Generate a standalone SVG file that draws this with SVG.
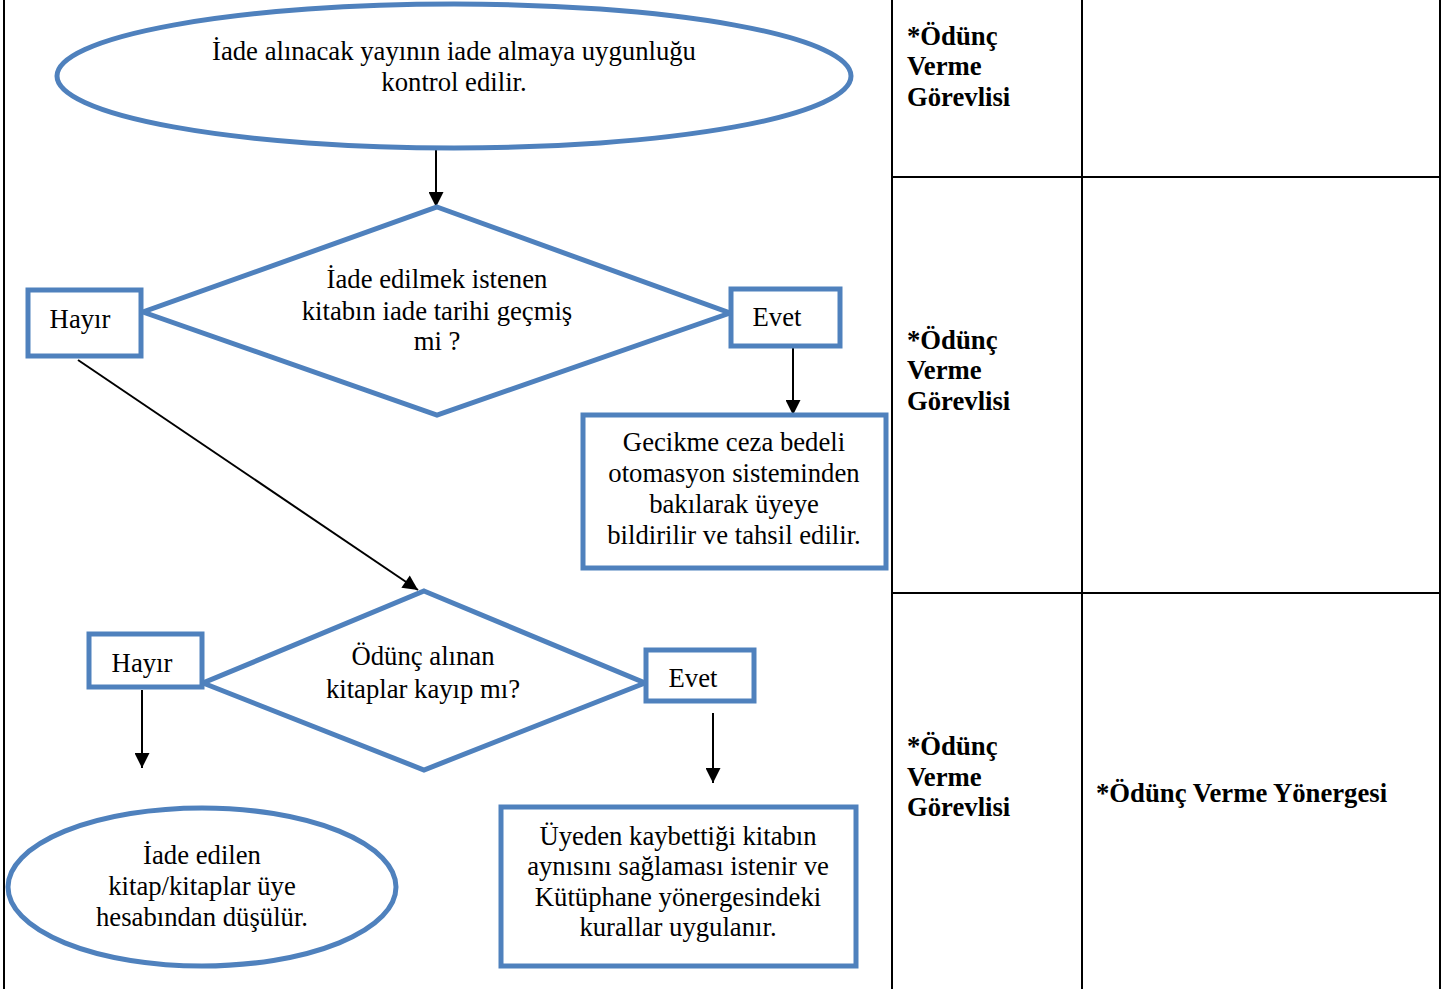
<svg xmlns="http://www.w3.org/2000/svg" width="1451" height="989" viewBox="0 0 1451 989">
<defs>
<marker id="ah" viewBox="0 0 10 10" refX="10" refY="5" markerWidth="16" markerHeight="15" markerUnits="userSpaceOnUse" orient="auto"><path d="M0,0 L10,5 L0,10 z" fill="#000"/></marker>
<style>
.sh{fill:#fff;stroke:#4F81BD;stroke-width:5}
.t{font-family:"Liberation Serif","Times New Roman",serif;font-size:26.7px;fill:#000;text-anchor:middle}
.b{font-family:"Liberation Serif","Times New Roman",serif;font-size:26.7px;font-weight:bold;fill:#000}
.grid{stroke:#000;stroke-width:2;fill:none}
.c{stroke:#000;stroke-width:2;fill:none;marker-end:url(#ah)}
</style>
</defs>
<rect width="1451" height="989" fill="#fff"/>
<g id="table">
<line class="grid" x1="4" y1="0" x2="4" y2="989"/>
<line class="grid" x1="892" y1="0" x2="892" y2="989"/>
<line class="grid" x1="1082" y1="0" x2="1082" y2="989"/>
<line class="grid" x1="1440" y1="0" x2="1440" y2="989"/>
<line class="grid" x1="892" y1="177" x2="1440" y2="177"/>
<line class="grid" x1="892" y1="593" x2="1440" y2="593"/>
<text class="b" x="907"><tspan x="907" y="45">*Ödünç</tspan><tspan x="907" y="75">Verme</tspan><tspan x="907" y="106">Görevlisi</tspan></text>
<text class="b" x="907"><tspan x="907" y="349">*Ödünç</tspan><tspan x="907" y="379">Verme</tspan><tspan x="907" y="410">Görevlisi</tspan></text>
<text class="b" x="907"><tspan x="907" y="755">*Ödünç</tspan><tspan x="907" y="786">Verme</tspan><tspan x="907" y="816">Görevlisi</tspan></text>
<text class="b" x="1096" y="802">*Ödünç Verme Yönergesi</text>
</g>
<g id="connectors">
<line class="c" x1="436" y1="149" x2="436" y2="207"/>
<line class="c" x1="793" y1="347" x2="793" y2="415"/>
<line class="c" x1="78" y1="360" x2="418" y2="590"/>
<line class="c" x1="142" y1="690" x2="142" y2="768"/>
<line class="c" x1="713" y1="713" x2="713" y2="783"/>
</g>
<g id="start">
<ellipse class="sh" cx="454" cy="76" rx="397" ry="72"/>
<text class="t"><tspan x="454" y="60">İade alınacak yayının iade almaya uygunluğu</tspan><tspan x="454" y="91">kontrol edilir.</tspan></text>
</g>
<g id="decision1">
<polygon class="sh" points="437,207 730,313 437,415 143,312"/>
<text class="t"><tspan x="437" y="288">İade edilmek istenen</tspan><tspan x="437" y="320">kitabın iade tarihi geçmiş</tspan><tspan x="437" y="350">mi ?</tspan></text>
</g>
<g id="hayir1">
<rect class="sh" x="28" y="290" width="113" height="66"/>
<text class="t" x="80" y="328">Hayır</text>
</g>
<g id="evet1">
<rect class="sh" x="731" y="289" width="109" height="57"/>
<text class="t" x="777" y="326">Evet</text>
</g>
<g id="penalty">
<rect class="sh" x="583" y="415" width="303" height="153"/>
<text class="t"><tspan x="734" y="451">Gecikme ceza bedeli</tspan><tspan x="734" y="482">otomasyon sisteminden</tspan><tspan x="734" y="513">bakılarak üyeye</tspan><tspan x="734" y="544">bildirilir ve tahsil edilir.</tspan></text>
</g>
<g id="decision2">
<polygon class="sh" points="424,591 645,683 424,770 203,683"/>
<text class="t"><tspan x="423" y="665">Ödünç alınan</tspan><tspan x="423" y="698">kitaplar kayıp mı?</tspan></text>
</g>
<g id="hayir2">
<rect class="sh" x="89" y="634" width="113" height="53"/>
<text class="t" x="142" y="672">Hayır</text>
</g>
<g id="evet2">
<rect class="sh" x="646" y="650" width="108" height="51"/>
<text class="t" x="693" y="687">Evet</text>
</g>
<g id="end">
<ellipse class="sh" cx="202" cy="887" rx="194" ry="79"/>
<text class="t"><tspan x="202" y="864">İade edilen</tspan><tspan x="202" y="895">kitap/kitaplar üye</tspan><tspan x="202" y="926">hesabından düşülür.</tspan></text>
</g>
<g id="lost">
<rect class="sh" x="501" y="807" width="355" height="159"/>
<text class="t"><tspan x="678" y="845">Üyeden kaybettiği kitabın</tspan><tspan x="678" y="875">aynısını sağlaması istenir ve</tspan><tspan x="678" y="906">Kütüphane yönergesindeki</tspan><tspan x="678" y="936">kurallar uygulanır.</tspan></text>
</g>
</svg>
